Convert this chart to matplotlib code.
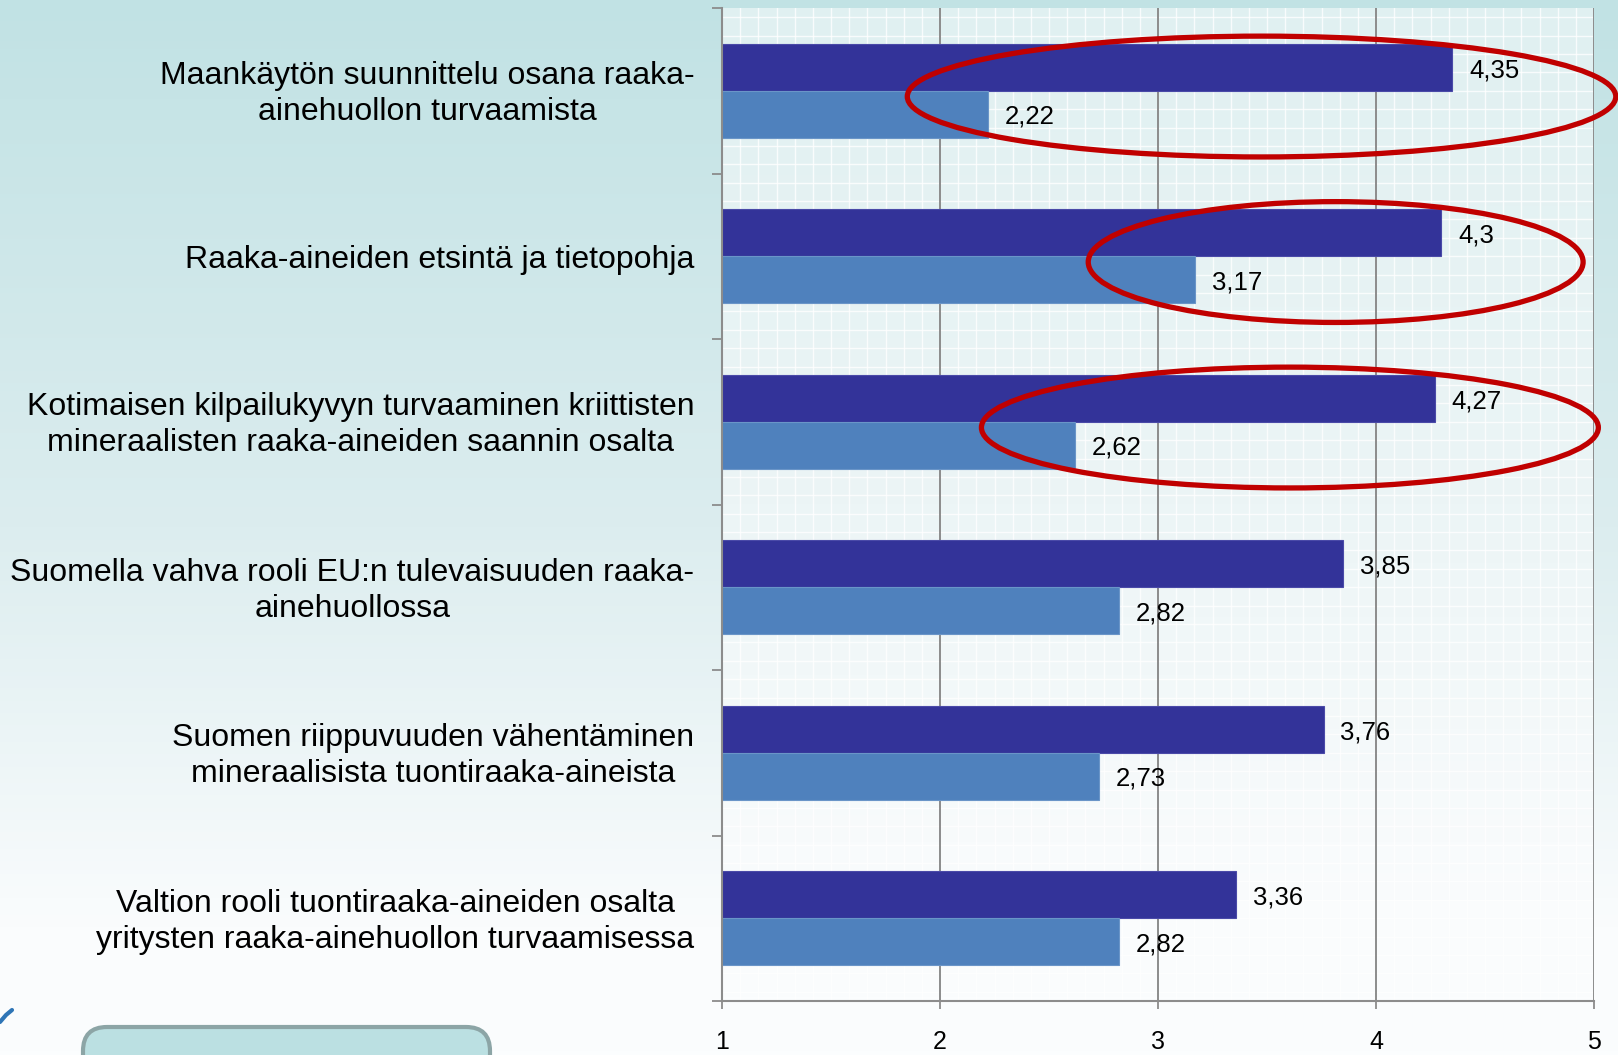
import matplotlib.pyplot as plt
import numpy as np
from matplotlib.colors import LinearSegmentedColormap
from matplotlib.patches import Ellipse, FancyBboxPatch
from matplotlib.ticker import MultipleLocator

plt.rcParams["font.family"] = ["Liberation Sans", "DejaVu Sans"]

categories = [
    "Maankäytön suunnittelu osana raaka-\nainehuollon turvaamista",
    "Raaka-aineiden etsintä ja tietopohja",
    "Kotimaisen kilpailukyvyn turvaaminen kriittisten\nmineraalisten raaka-aineiden saannin osalta",
    "Suomella vahva rooli EU:n tulevaisuuden raaka-\nainehuollossa",
    "Suomen riippuvuuden vähentäminen\nmineraalisista tuontiraaka-aineista",
    "Valtion rooli tuontiraaka-aineiden osalta\nyritysten raaka-ainehuollon turvaamisessa",
]
series_dark = [4.35, 4.3, 4.27, 3.85, 3.76, 3.36]
series_light = [2.22, 3.17, 2.62, 2.82, 2.73, 2.82]
x_ticks = [1, 2, 3, 4, 5]

# red highlight rings: row, left x, right x
rings = [(0, 1.85, 5.10), (1, 2.68, 4.95), (2, 2.19, 5.02)]

W, H = 1618, 1055
fig = plt.figure(figsize=(W / 100, H / 100), dpi=100)

# page background gradient
bg = fig.add_axes([0, 0, 1, 1], zorder=-10)
page_cmap = LinearSegmentedColormap.from_list(
    "page", [(0, "#c1e2e4"), (0.5, "#dcedef"), (0.88, "#fafcfd"), (1, "#fbfdfe")]
)
bg.imshow(np.linspace(0, 1, 256)[:, None], cmap=page_cmap, aspect="auto", extent=(0, W, H, 0))
bg.add_patch(FancyBboxPatch((83, 1027), 407, 80, boxstyle="round,pad=0,rounding_size=24",
                            facecolor="#bbe0e2", edgecolor="#8ca5a6", linewidth=3))
bg.plot([0, 6, 12], [1022, 1015, 1010], color="#2e75b6", linewidth=3, solid_capstyle="round")
bg.set_xlim(0, W)
bg.set_ylim(H, 0)
bg.axis("off")

left, right, top, bottom = 722, 1594, 8, 1001
ax = fig.add_axes([left / W, 1 - bottom / H, (right - left) / W, (bottom - top) / H])
ax.set_facecolor("none")

plot_cmap = LinearSegmentedColormap.from_list(
    "plot", [(0, "#e0f0f1"), (0.5, "#ecf5f6"), (0.9, "#fafcfd"), (1, "#fbfdfe")]
)
ax.imshow(np.linspace(0, 1, 256)[:, None], cmap=plot_cmap, aspect="auto",
          extent=(1, 5, 5.5, -0.5), zorder=-2)

y = np.arange(len(categories))
h = 0.283
ax.barh(y - h / 2, series_dark, height=h, color="#333399", edgecolor="#4a4aa8", linewidth=0.8, zorder=2)
ax.barh(y + h / 2, series_light, height=h, color="#4f81bd", edgecolor="#6a95c8", linewidth=0.8, zorder=2)

for yy, vd, vl in zip(y, series_dark, series_light):
    ax.annotate(f"{vd:g}".replace(".", ","), (vd, yy - h / 2), xytext=(12, -2),
                textcoords="offset points", va="center", ha="left", fontsize=18.5, zorder=4)
    ax.annotate(f"{vl:g}".replace(".", ","), (vl, yy + h / 2), xytext=(12, -2),
                textcoords="offset points", va="center", ha="left", fontsize=18.5, zorder=4)

for yy, lab in zip(y, categories):
    ax.annotate(lab, (0, yy), xycoords=("axes fraction", "data"), xytext=(-20, -2.5),
                textcoords="offset points", ha="right", va="center", multialignment="center",
                fontsize=23, linespacing=1.28)

for row, x0, x1 in rings:
    ax.add_patch(Ellipse(((x0 + x1) / 2, row + 0.035), x1 - x0, 0.73, fill=False,
                         edgecolor="#c00000", linewidth=3.8, clip_on=False, zorder=5))

ax.set_xlim(1, 5)
ax.set_ylim(5.5, -0.5)
ax.set_xticks(x_ticks)
ax.set_xticklabels([str(t) for t in x_ticks], fontsize=18)
ax.set_yticks(np.arange(-0.5, 6, 1))
ax.set_yticklabels([])
ax.xaxis.set_minor_locator(MultipleLocator(1 / 12))
ax.yaxis.set_minor_locator(MultipleLocator(1 / 9))
ax.tick_params(which="major", axis="x", length=6, width=1.3, color="#8c8c8c", pad=15)
ax.tick_params(which="major", axis="y", length=7, width=1.3, color="#8c8c8c")
ax.tick_params(which="minor", length=0)

ax.set_axisbelow(True)
ax.grid(which="minor", color="white", linewidth=1.0, alpha=0.8)
ax.grid(which="major", visible=False)
for t in x_ticks[1:]:
    ax.axvline(t, color="#8c8c8c", linewidth=1.4, zorder=1)

for s in ("top", "right"):
    ax.spines[s].set_visible(False)
for s in ("left", "bottom"):
    ax.spines[s].set_color("#8c8c8c")
    ax.spines[s].set_linewidth(1.5)

fig.savefig("out.png", dpi=100)
